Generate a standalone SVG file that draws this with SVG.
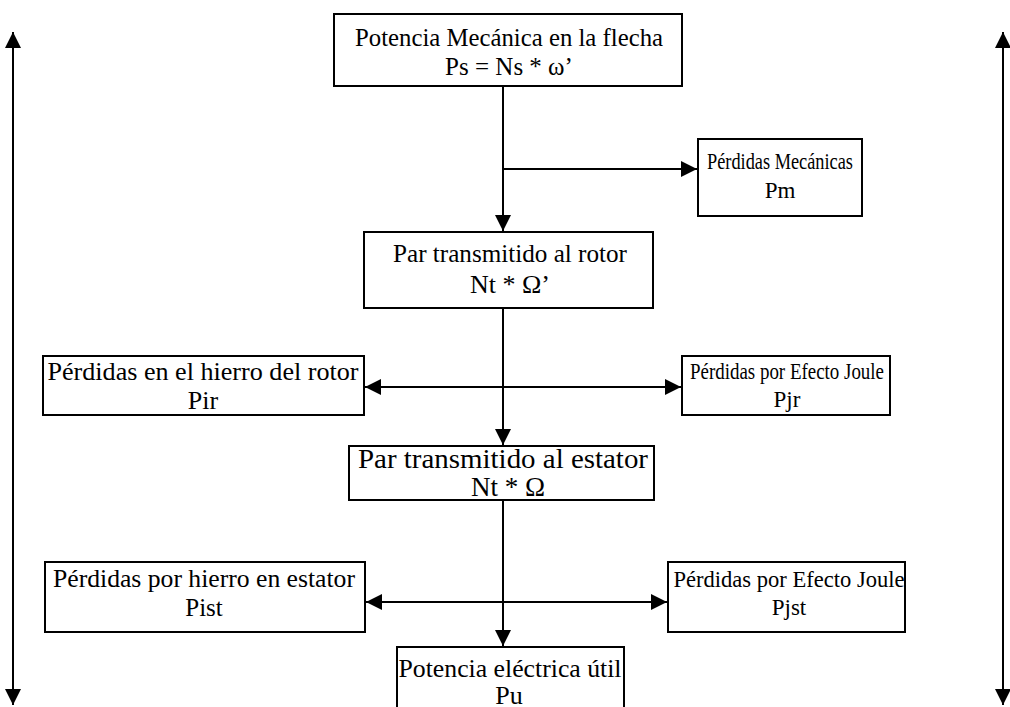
<svg xmlns="http://www.w3.org/2000/svg" width="1010" height="707" viewBox="0 0 1010 707">
<defs>
<marker id="ah" markerUnits="userSpaceOnUse" markerWidth="16" markerHeight="16" viewBox="0 0 16 16" refX="16" refY="8" orient="auto-start-reverse">
<path d="M0,0 L16,8 L0,16 Z" fill="#000"/>
</marker>
</defs>
<style>
.box{fill:#fff;stroke:#000;stroke-width:2}
.t{font-family:"Liberation Serif","Times New Roman",serif;font-size:25px;fill:#000;text-anchor:middle}
.c{fill:none;stroke:#000;stroke-width:2}
</style>
<rect width="1010" height="707" fill="#fff"/>
<g id="connectors">
<line class="c" x1="503" y1="86" x2="503" y2="231" marker-end="url(#ah)"/>
<line class="c" x1="503" y1="169" x2="697" y2="169" marker-end="url(#ah)"/>
<line class="c" x1="503" y1="308" x2="503" y2="445" marker-end="url(#ah)"/>
<line class="c" x1="365" y1="387" x2="681" y2="387" marker-start="url(#ah)" marker-end="url(#ah)"/>
<line class="c" x1="503" y1="500" x2="503" y2="646" marker-end="url(#ah)"/>
<line class="c" x1="366" y1="602" x2="667" y2="602" marker-start="url(#ah)" marker-end="url(#ah)"/>
<line class="c" x1="13" y1="32" x2="13" y2="705" marker-start="url(#ah)" marker-end="url(#ah)"/>
<line class="c" x1="1003" y1="32" x2="1003" y2="705" marker-start="url(#ah)" marker-end="url(#ah)"/>
</g>
<g id="n-ps">
<rect class="box" x="334" y="14" width="348" height="72"/>
<text class="t" x="509" y="46" textLength="308" lengthAdjust="spacingAndGlyphs">Potencia Mecánica en la flecha</text>
<text class="t" x="509" y="75">Ps = Ns * ω’</text>
</g>
<g id="n-pm">
<rect class="box" x="698" y="139" width="164" height="77"/>
<text class="t" x="780" y="169" style="font-size:23px" textLength="146" lengthAdjust="spacingAndGlyphs">Pérdidas Mecánicas</text>
<text class="t" x="780" y="198" style="font-size:23px">Pm</text>
</g>
<g id="n-rotor">
<rect class="box" x="364" y="232" width="289" height="76"/>
<text class="t" x="510" y="262" textLength="234" lengthAdjust="spacingAndGlyphs">Par transmitido al rotor</text>
<text class="t" x="510" y="293" style="font-size:26px">Nt * Ω’</text>
</g>
<g id="n-pir">
<rect class="box" x="43" y="356" width="321" height="59"/>
<text class="t" x="203" y="380" style="font-size:26px" textLength="311" lengthAdjust="spacingAndGlyphs">Pérdidas en el hierro del rotor</text>
<text class="t" x="203" y="409" style="font-size:26px">Pir</text>
</g>
<g id="n-pjr">
<rect class="box" x="682" y="356" width="208" height="59"/>
<text class="t" x="787" y="379" style="font-size:23px" textLength="194" lengthAdjust="spacingAndGlyphs">Pérdidas por Efecto Joule</text>
<text class="t" x="787" y="407" style="font-size:23px">Pjr</text>
</g>
<g id="n-estator">
<rect class="box" x="349" y="446" width="305" height="54"/>
<text class="t" x="503" y="468" style="font-size:27px" textLength="290" lengthAdjust="spacingAndGlyphs">Par transmitido al estator</text>
<text class="t" x="508" y="496" style="font-size:27px">Nt * Ω</text>
</g>
<g id="n-pist">
<rect class="box" x="45" y="562" width="320" height="70"/>
<text class="t" x="204" y="587" style="font-size:25px" textLength="302" lengthAdjust="spacingAndGlyphs">Pérdidas por hierro en estator</text>
<text class="t" x="204" y="616" style="font-size:25px">Pist</text>
</g>
<g id="n-pjst">
<rect class="box" x="668" y="562" width="237" height="70"/>
<text class="t" x="789" y="587" style="font-size:23px" textLength="231" lengthAdjust="spacingAndGlyphs">Pérdidas por Efecto Joule</text>
<text class="t" x="789" y="615" style="font-size:23px">Pjst</text>
</g>
<g id="n-pu">
<rect class="box" x="397" y="647" width="227" height="80"/>
<text class="t" x="510" y="677" style="font-size:26px" textLength="223" lengthAdjust="spacingAndGlyphs">Potencia eléctrica útil</text>
<text class="t" x="509" y="704" style="font-size:26px">Pu</text>
</g>
</svg>
